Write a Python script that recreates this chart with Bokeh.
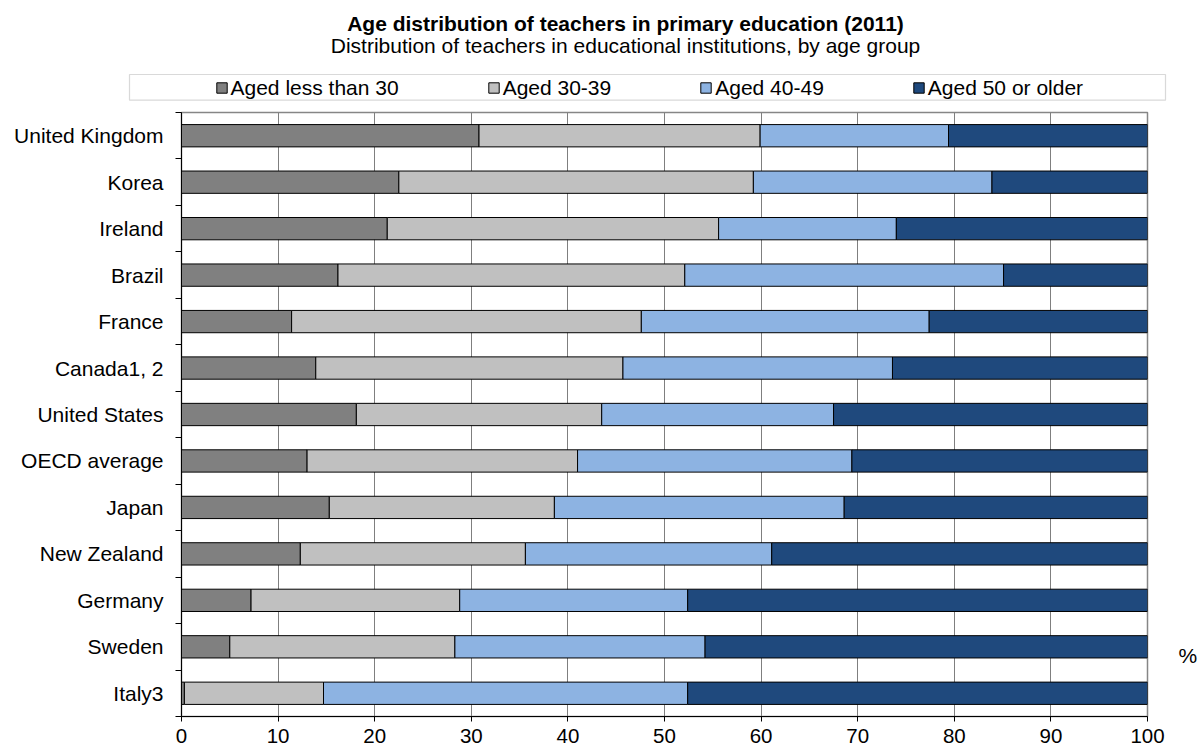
from bokeh.plotting import figure
from bokeh.layouts import column
from bokeh.models import (Range1d, FixedTicker, Legend, LegendItem, BoxAnnotation,
                          Label, ColumnDataSource, LinearAxis)
from bokeh.embed import file_html
from bokeh.resources import INLINE

# ---- data (top to bottom, as in the chart) ----
countries = ["United Kingdom", "Korea", "Ireland", "Brazil", "France", "Canada1, 2",
             "United States", "OECD average", "Japan", "New Zealand", "Germany",
             "Sweden", "Italy3"]
aged_under_30 = [30.8, 22.5, 21.3, 16.2, 11.4, 13.9, 18.1, 13.0, 15.3, 12.3, 7.2, 5.0, 0.3]
aged_30_39 = [29.1, 36.7, 34.3, 35.9, 36.2, 31.8, 25.4, 28.0, 23.3, 23.3, 21.6, 23.3, 14.4]
aged_40_49 = [19.5, 24.7, 18.4, 33.0, 29.8, 27.9, 24.0, 28.4, 30.0, 25.5, 23.6, 25.9, 37.7]
aged_50_plus = [20.6, 16.1, 26.0, 14.9, 22.6, 26.4, 32.5, 30.6, 31.4, 38.9, 47.6, 45.8, 47.6]
series_names = ["Aged less than 30", "Aged 30-39", "Aged 40-49", "Aged 50 or older"]
x_ticks = [0, 10, 20, 30, 40, 50, 60, 70, 80, 90, 100]
title_text = "Age distribution of teachers in primary education (2011)"
subtitle_text = "Distribution of teachers in educational institutions, by age group"
unit_text = "%"

colors = ["#808080", "#C0C0C0", "#8DB3E2", "#1F497D"]
FONT = "Liberation Sans"
W = 1200
HDR_H = 104
MAIN_H = 752 - HDR_H

# ---------------- header: title, subtitle, legend ----------------
hdr = figure(width=W, height=HDR_H, output_backend="svg", toolbar_location=None,
             x_range=Range1d(0, W), y_range=Range1d(HDR_H, 0),
             x_axis_type=None, y_axis_type=None, min_border=0,
             background_fill_color="white", border_fill_color="white")
hdr.frame_align = False
hdr.outline_line_color = None
hdr.grid.visible = False

hdr.add_layout(Label(x=625, y=22.7, text=title_text, text_align="center",
                     text_baseline="alphabetic", text_font=FONT, text_font_size="21px",
                     text_font_style="bold", text_color="black"))
hdr.add_layout(Label(x=625, y=45, text=subtitle_text, text_align="center",
                     text_baseline="alphabetic", text_font=FONT, text_font_size="21px",
                     text_color="black"))
hdr.add_layout(BoxAnnotation(left=129, right=1165, top=74, bottom=99.7,
                             fill_color="white", fill_alpha=1.0,
                             line_color="#808080", line_width=1.2))

# legend swatches (same colours as the bars); the renderers themselves are hidden
swatches = []
for c in colors:
    r = hdr.hbar(y=[50], left=[0], right=[1], height=1,
                 fill_color=c, line_color="black", line_width=1)
    r.visible = False
    swatches.append(r)

legend = Legend(items=[LegendItem(label=nm, renderers=[r])
                       for nm, r in zip(series_names, swatches)],
                orientation="horizontal", location=(214.5, 4.5), spacing=88,
                padding=0, margin=0, glyph_width=13, glyph_height=13,
                label_standoff=3, label_text_font=FONT, label_text_font_size="21px",
                label_text_color="black", border_line_alpha=0,
                background_fill_alpha=0)
hdr.add_layout(legend)

# ---------------- main chart ----------------
n = len(countries)
ypos = [n - 1 - i + 0.5 for i in range(n)]
src = ColumnDataSource(dict(y=ypos, s0=aged_under_30, s1=aged_30_39,
                            s2=aged_40_49, s3=aged_50_plus))

p = figure(width=W, height=MAIN_H, output_backend="svg", toolbar_location=None,
           x_range=Range1d(0, 100), y_range=Range1d(0, n),
           min_border_left=181, min_border_right=53, min_border_top=8,
           min_border_bottom=36, background_fill_color="white",
           border_fill_color="white")
p.frame_align = False
p.outline_line_color = "#868686"
p.outline_line_width = 1.5

renderers = p.hbar_stack(["s0", "s1", "s2", "s3"], y="y", height=0.48,
                         color=colors, line_color="black", line_width=1, source=src)

p.ygrid.visible = False
p.xgrid.ticker = FixedTicker(ticks=x_ticks)
p.xgrid.grid_line_color = "#7f7f7f"
p.xgrid.grid_line_width = 1

xa = p.xaxis[0]
xa.ticker = FixedTicker(ticks=x_ticks)
xa.axis_line_color = "black"
xa.major_tick_line_color = "black"
xa.major_tick_out = 5
xa.major_tick_in = 0
xa.minor_tick_line_color = None
xa.major_label_standoff = 7
xa.major_label_text_font = FONT
xa.major_label_text_font_size = "20.5px"
xa.major_label_text_color = "black"

ya = p.yaxis[0]
ya.ticker = FixedTicker(ticks=ypos, minor_ticks=list(range(0, n + 1)))
ya.major_label_overrides = {y: c for y, c in zip(ypos, countries)}
ya.axis_line_color = "black"
ya.major_tick_line_color = None
ya.major_tick_out = 0
ya.major_tick_in = 0
ya.minor_tick_line_color = "black"
ya.minor_tick_out = 6
ya.minor_tick_in = 0
ya.major_label_standoff = 12
ya.major_label_text_font = FONT
ya.major_label_text_font_size = "21px"
ya.major_label_text_color = "black"

# unit "%" shown on the right side, next to the lower rows
unit_pos = 1.313
ra = LinearAxis(ticker=FixedTicker(ticks=[unit_pos]),
                major_label_overrides={unit_pos: unit_text},
                axis_line_color=None, major_tick_line_color=None,
                minor_tick_line_color=None, major_tick_out=0, major_tick_in=0,
                major_label_standoff=31, major_label_text_font=FONT,
                major_label_text_font_size="21px", major_label_text_color="black")
p.add_layout(ra, "right")

layout = column(hdr, p, spacing=0)
open("out.html", "w").write(file_html(layout, INLINE))
